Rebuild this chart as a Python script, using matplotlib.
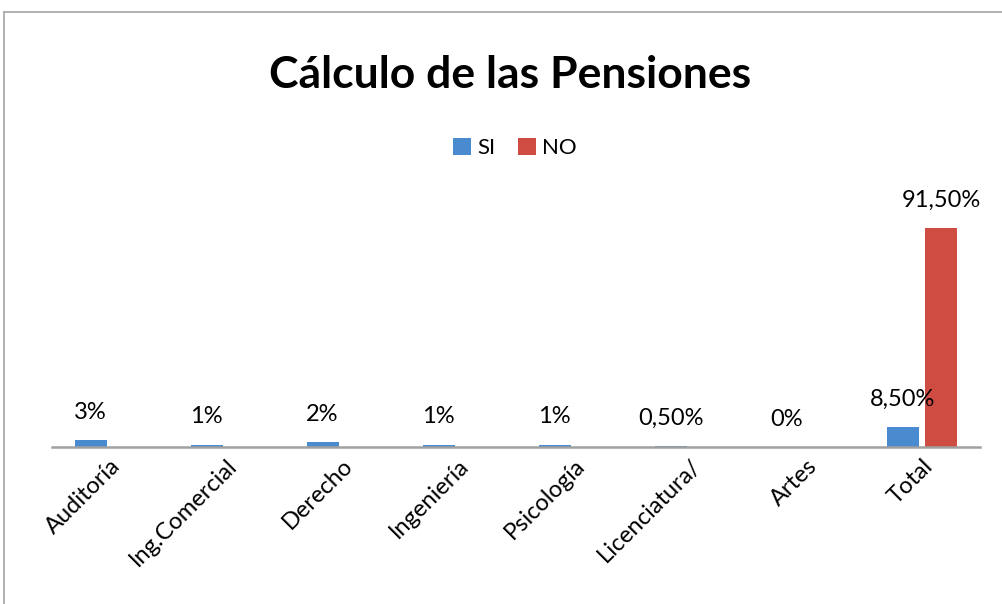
import matplotlib
matplotlib.use('Agg')
import matplotlib.pyplot as plt
import numpy as np

plt.rcParams['font.family'] = ['Lato', 'DejaVu Sans']

# data
carreras = ['Auditoría', 'Ing.Comercial', 'Derecho', 'Ingeniería', 'Psicología',
            'Licenciatura/', 'Artes', 'Total']
si = [3, 1, 2, 1, 1, 0.5, 0, 8.5]
no = [np.nan, np.nan, np.nan, np.nan, np.nan, np.nan, np.nan, 91.5]
si_labels = ['3%', '1%', '2%', '1%', '1%', '0,50%', '0%', '8,50%']
no_labels = ['', '', '', '', '', '', '', '91,50%']

W, H = 1002, 604
fig = plt.figure(figsize=(W / 100, H / 100), dpi=100)

# outer chart frame (only left and top edges visible)
fig.add_artist(plt.Line2D([4 / W, 4 / W], [0, 1 - 12 / H], color='#a6a6a6', lw=1.2))
fig.add_artist(plt.Line2D([4 / W, 1], [1 - 12 / H, 1 - 12 / H], color='#a6a6a6', lw=1.2))

fig.text(510 / W, 1 - 75 / H, 'Cálculo de las Pensiones', ha='center', va='center',
         fontsize=32, fontweight='bold')

ax = fig.add_axes([52 / W, (H - 447) / H, 928 / W, 239 / H])
x = np.arange(len(carreras))
bw = 0.276
off = 0.168
c_si = '#4a8bd0'
c_no = '#cf4c43'
ax.bar(x - off, si, bw, color=c_si, label='SI')
ax.bar(x + off, no, bw, color=c_no, label='NO')

for i in range(len(x)):
    ax.annotate(si_labels[i], (x[i] - off, si[i]), xytext=(0, 20), textcoords='offset points',
                ha='center', va='center', fontsize=17)
    if no_labels[i]:
        ax.annotate(no_labels[i], (x[i] + off, no[i]), xytext=(0, 20), textcoords='offset points',
                    ha='center', va='center', fontsize=17)

ax.set_xlim(-0.5, len(x) - 0.5)
ax.set_ylim(0, 100)
for s in ['top', 'right', 'left']:
    ax.spines[s].set_visible(False)
ax.spines['bottom'].set_color('#a0a0a0')
ax.spines['bottom'].set_linewidth(1.8)
ax.set_yticks([])
ax.set_xticks(x)
ax.set_xticklabels(carreras, rotation=45, ha='right', rotation_mode='anchor', fontsize=17)
ax.tick_params(axis='x', length=0, pad=6)

leg = fig.legend(loc='center', bbox_to_anchor=(515 / W, 1 - 148 / H), ncol=2, frameon=False,
                 fontsize=16, handlelength=0.8, handleheight=0.8, handletextpad=0.3,
                 columnspacing=1.0)

fig.savefig('out.png', dpi=100)
